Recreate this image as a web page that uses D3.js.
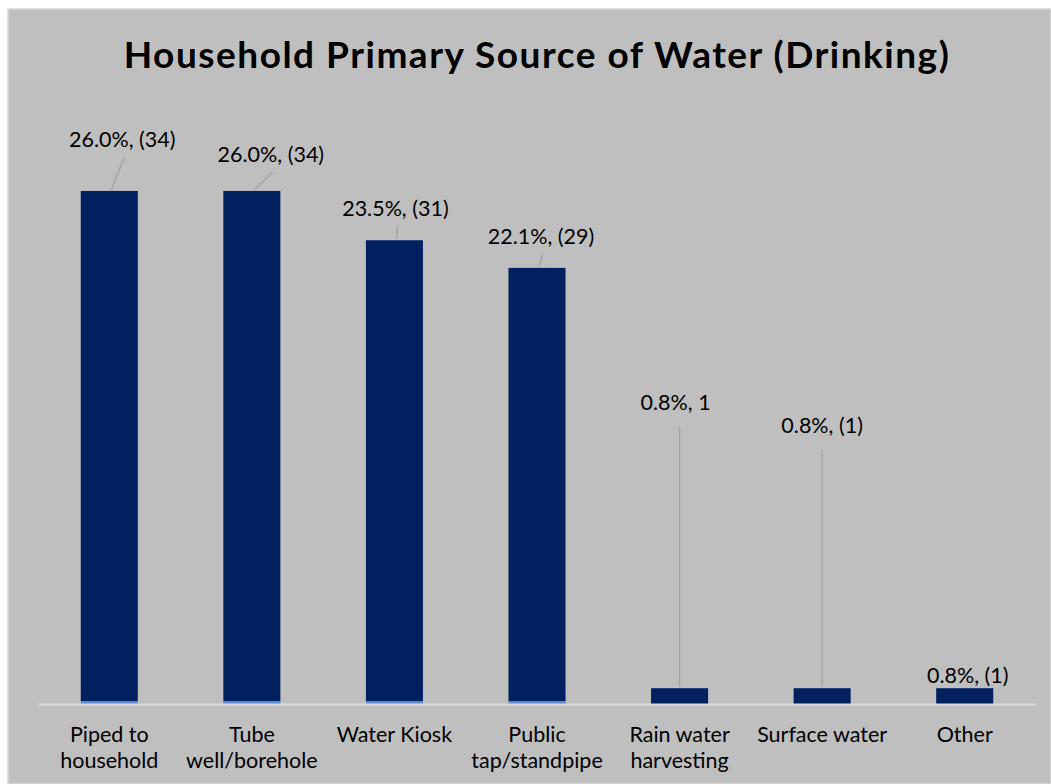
<!DOCTYPE html>
<html>
<head>
<meta charset="utf-8">
<script src="https://cdn.jsdelivr.net/npm/d3@7"></script>
<style>
  body { margin: 0; background: #fff; }
  svg { display: block; }
</style>
</head>
<body>
<svg id="chart" width="1051" height="784"></svg>
<script>
// data
var categories = [
  ['Piped to', 'household'],
  ['Tube', 'well/borehole'],
  ['Water Kiosk'],
  ['Public', 'tap/standpipe'],
  ['Rain water', 'harvesting'],
  ['Surface water'],
  ['Other']
];
var percent = [26.0, 26.0, 23.5, 22.1, 0.8, 0.8, 0.8];
var baseSeries = [0.15, 0.15, 0.15, 0.15, 0, 0, 0];   // thin light strip under the first four bars
var labelText = ['26.0%, (34)', '26.0%, (34)', '23.5%, (31)', '22.1%, (29)', '0.8%, 1', '0.8%, (1)', '0.8%, (1)'];

// hand-placed label nudges (pixels, relative to bar centre / bar top)
var labelDx = [13, 19, 1, 4, -4, 0, 3];
var labelDy = [-44, -29, -24, -24, -278, -255, -5];
var leader = ['slant', 'slant', 'slant', 'slant', 'vertical', 'vertical', 'none'];

var svg = d3.select('#chart');
var width = +svg.attr('width');
var height = +svg.attr('height');
var font = 'Lato, "Open Sans", sans-serif';

svg.append('rect')
  .attr('x', 8).attr('y', 9)
  .attr('width', width - 8).attr('height', height - 9)
  .attr('fill', '#bfbfbf')
  .attr('stroke', '#d9d9d9').attr('stroke-width', 1.5);

svg.append('text')
  .attr('x', 537).attr('y', 68)
  .attr('text-anchor', 'middle')
  .attr('font-family', font)
  .attr('font-weight', 'bold')
  .attr('font-size', 37)
  .attr('letter-spacing', 1.5)
  .attr('fill', '#000')
  .text('Household Primary Source of Water (Drinking)');

var x = d3.scaleBand()
  .domain(d3.range(categories.length))
  .range([38, 1036])
  .paddingInner(0.6)
  .paddingOuter(0.3);

var y = d3.scaleLinear()
  .domain([0, 30])
  .range([704, 112]);

// bars: light base strip, navy on top
var bars = svg.append('g');
bars.selectAll('rect.base')
  .data(baseSeries)
  .join('rect')
  .attr('class', 'base')
  .attr('x', function(d, i) { return x(i); })
  .attr('width', x.bandwidth())
  .attr('y', function(d) { return y(d); })
  .attr('height', function(d) { return y(0) - y(d); })
  .attr('fill', '#5b8bd0');

bars.selectAll('rect.main')
  .data(percent)
  .join('rect')
  .attr('class', 'main')
  .attr('x', function(d, i) { return x(i); })
  .attr('width', x.bandwidth())
  .attr('y', function(d) { return y(d); })
  .attr('height', function(d, i) { return y(baseSeries[i]) - y(d); })
  .attr('fill', '#002060');

// x axis line and wrapped category labels
var axis = svg.append('g')
  .attr('transform', 'translate(0,' + y(0) + ')')
  .call(d3.axisBottom(x).tickSize(0).tickFormat(''));
axis.select('.domain').attr('stroke', '#d9d9d9').attr('stroke-width', 2);

var ticks = axis.selectAll('.tick');
ticks.select('text').remove();
ticks.append('text')
  .attr('text-anchor', 'middle')
  .attr('font-family', font)
  .attr('font-size', 21.5)
  .attr('fill', '#000')
  .selectAll('tspan')
  .data(function(d) { return categories[d]; })
  .join('tspan')
  .attr('x', 0)
  .attr('y', function(d, i) { return 38 + i * 26; })
  .text(function(d) { return d; });

// data labels with leader lines
var labels = svg.append('g');
percent.forEach(function(v, i) {
  var cx = x(i) + x.bandwidth() / 2;
  var top = y(v);
  var lx = cx + labelDx[i];
  var ly = top + labelDy[i];
  if (leader[i] === 'slant') {
    labels.append('line')
      .attr('x1', cx + 2).attr('y1', top - 1)
      .attr('x2', lx + 2).attr('y2', ly + 10)
      .attr('stroke', '#a6a6a6')
      .attr('stroke-width', 1.5);
  } else if (leader[i] === 'vertical') {
    labels.append('line')
      .attr('x1', cx).attr('y1', top - 1)
      .attr('x2', cx).attr('y2', ly + 16)
      .attr('stroke', '#a6a6a6')
      .attr('stroke-width', 1.5);
  }
  labels.append('text')
    .attr('x', lx).attr('y', ly)
    .attr('text-anchor', 'middle')
    .attr('font-family', font)
    .attr('font-size', 21.5)
    .attr('fill', '#000')
    .text(labelText[i]);
});
</script>
</body>
</html>
